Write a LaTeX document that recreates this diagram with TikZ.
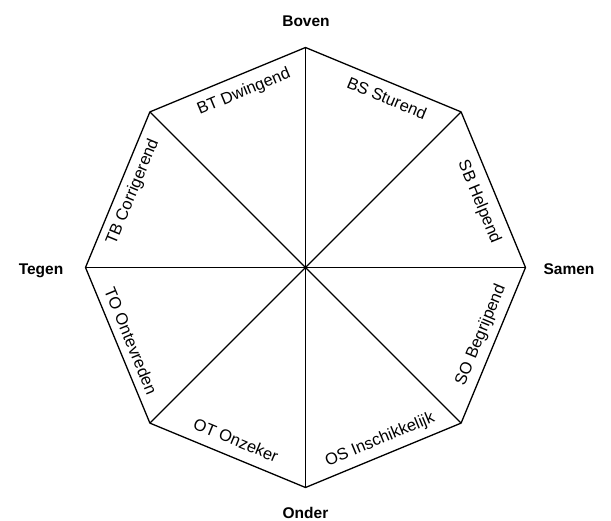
\documentclass[tikz,border=0pt]{standalone}
\usepackage{fontspec}
\setmainfont{Liberation Sans}
\begin{document}
\begin{tikzpicture}[x=1pt,y=-1pt,
  edge/.style={line width=1.3pt, black, line join=miter},
  lab/.style={font=\fontsize{16.5}{19}\selectfont, inner sep=0pt},
  dirlab/.style={font=\fontsize{15.5}{18}\selectfont\bfseries, inner sep=0pt, anchor=base}]
\useasboundingbox (0,0) rectangle (611,520);
\coordinate (C) at (305.5,267.5);
\coordinate (T) at (305.5,47.5);
\coordinate (TR) at (461.1,111.9);
\coordinate (R) at (525.5,267.5);
\coordinate (BR) at (461.1,423.1);
\coordinate (B) at (305.5,487.5);
\coordinate (BL) at (149.9,423.1);
\coordinate (L) at (85.5,267.5);
\coordinate (TL) at (149.9,111.9);
\draw[edge] (T) -- (TR) -- (R) -- (BR) -- (B) -- (BL) -- (L) -- (TL) -- cycle;
\draw[edge] (T) -- (B);
\draw[edge] (L) -- (R);
\draw[edge] (TL) -- (BR);
\draw[edge] (TR) -- (BL);
\node[dirlab] (boven) at (306,26.7) {Boven};
\node[dirlab] (onder) at (305.5,518) {Onder};
\node[dirlab] (tegen) at (41,274) {Tegen};
\node[dirlab] (samen) at (569,274.5) {Samen};
\node[lab, rotate=22.5] (bt) at (244,92) {BT Dwingend};
\node[lab, rotate=-22.5] (bs) at (387,98) {BS Sturend};
\node[lab, rotate=-67.5] (sb) at (479,202) {SB Helpend};
\node[lab, rotate=67.5] (so) at (481,335) {SO Begrijpend};
\node[lab, rotate=22.5] (os) at (380,440) {OS Inschikkelijk};
\node[lab, rotate=-22.5] (ot) at (236,440) {OT Onzeker};
\node[lab, rotate=-67.5] (to) at (131,341) {TO Ontevreden};
\node[lab, rotate=67.5] (tb) at (133,192) {TB Corrigerend};
\end{tikzpicture}
\end{document}
